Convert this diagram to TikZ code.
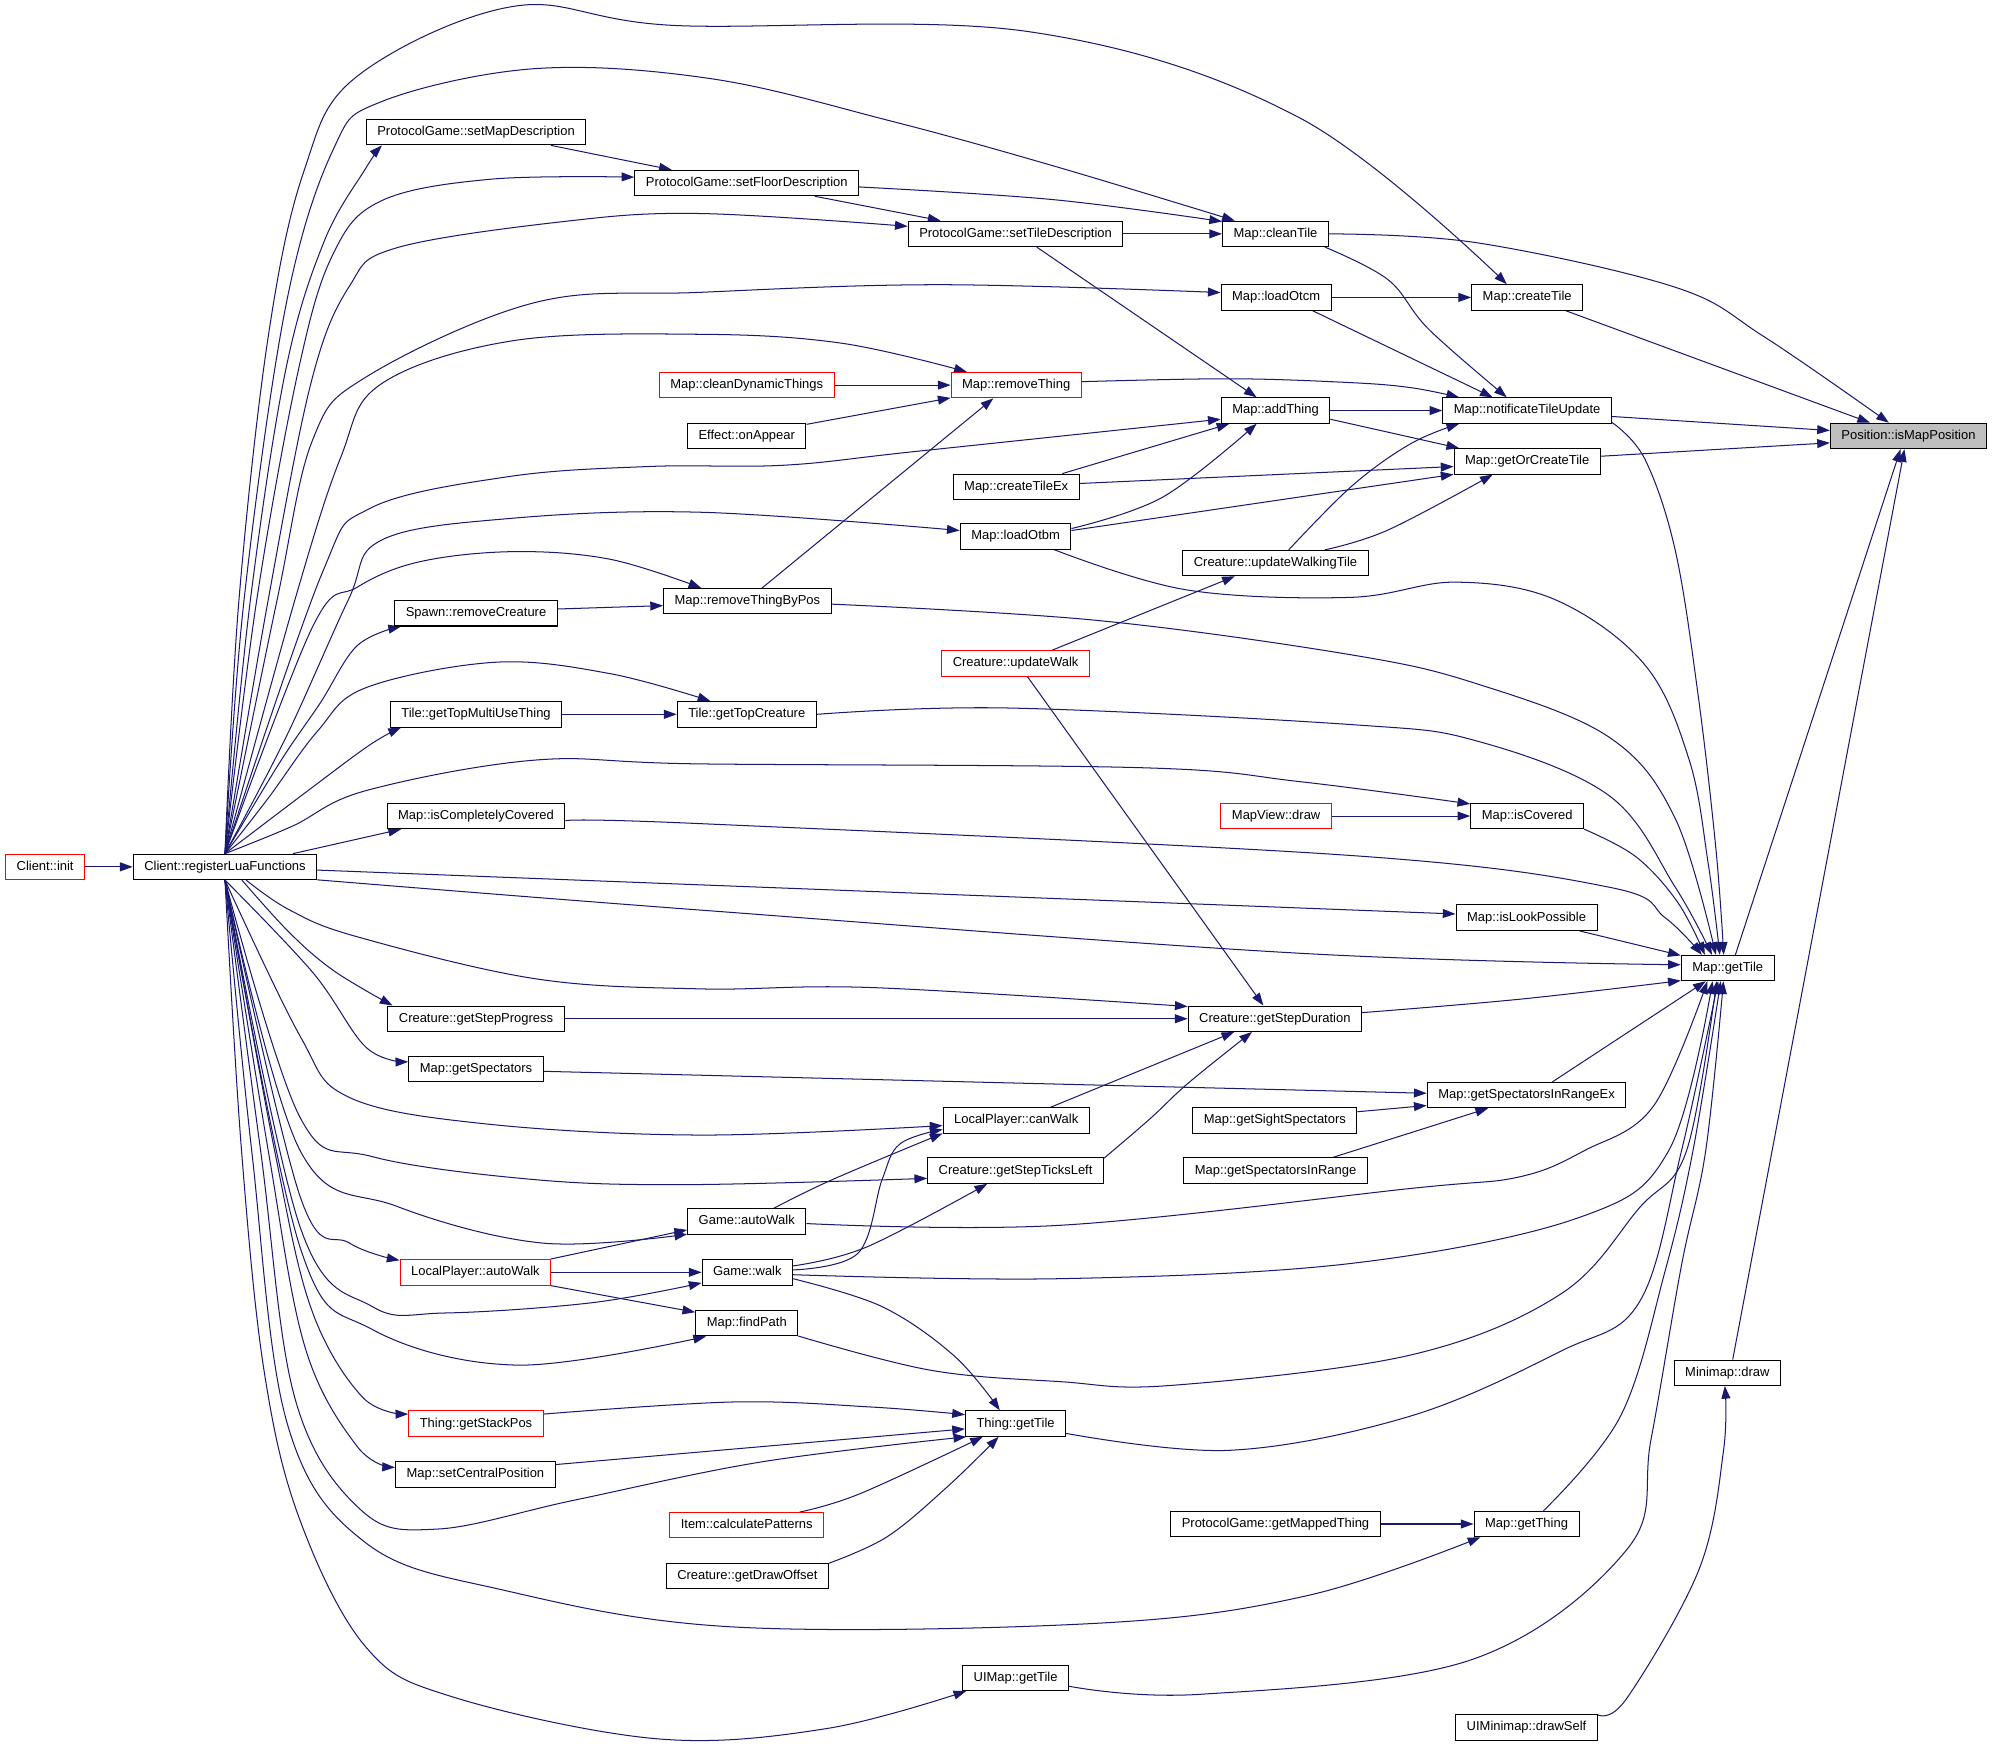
\documentclass[tikz,border=0pt]{standalone}
\usepackage{fontspec}
\setmainfont{Liberation Sans}
\usetikzlibrary{
    arrows.meta,
    backgrounds
}
\definecolor{edgeblue}{HTML}{191970}
\definecolor{selgray}{HTML}{BFBFBF}
\pgfdeclarelayer{bg}
\pgfsetlayers{bg,main}
\tikzset{
    fn/.style={draw=black, line width=0.8pt, fill=white, inner xsep=8.7pt, inner ysep=0pt,
        minimum height=20pt, text height=7.4pt, text depth=2pt,
        font=\fontsize{10.2pt}{12pt}\selectfont},
    fnred/.style={fn, draw=red},
    fnsel/.style={fn, fill=selgray},
    edge/.style={draw=edgeblue, line width=0.8pt, -{Triangle[length=10pt,width=7pt]}},
    spline/.style={edge, smooth, tension=0.6}
}

\begin{document}
\begin{tikzpicture}[x=1pt,y=-1pt]
    \useasboundingbox (0,0) rectangle (1568,1374.5);
    % functions, column by column
    \node[fnred] (clientInit) at (35.5,682) {Client::init};
    \node[fn] (regLua) at (177,682) {Client::registerLuaFunctions};

    \node[fn] (setMapDesc) at (374.5,104) {ProtocolGame::setMapDescription};
    \node[fn] (removeCreature) at (374.5,482.5) {Spawn::removeCreature};
    \node[fn] (getTopMulti) at (374.5,562) {Tile::getTopMultiUseThing};
    \node[fn] (isCompCovered) at (374.5,642) {Map::isCompletelyCovered};
    \node[fn] (getStepProgress) at (374.5,801.5) {Creature::getStepProgress};
    \node[fn] (getSpectators) at (374.5,841) {Map::getSpectators};
    \node[fnred] (lpAutoWalk) at (374,1001) {LocalPlayer::autoWalk};
    \node[fnred] (getStackPos) at (374.5,1120) {Thing::getStackPos};
    \node[fn] (setCentralPos) at (374,1160) {Map::setCentralPosition};

    \node[fn] (setFloorDesc) at (587.5,144) {ProtocolGame::setFloorDescription};
    \node[fnred] (cleanDynThings) at (587.5,303) {Map::cleanDynamicThings};
    \node[fn] (onAppear) at (587.5,343) {Effect::onAppear};
    \node[fn] (removeThingByPos) at (588,473) {Map::removeThingByPos};
    \node[fn] (getTopCreature) at (587.5,562) {Tile::getTopCreature};
    \node[fn] (gameAutoWalk) at (587.5,961) {Game::autoWalk};
    \node[fn] (gameWalk) at (588,1001) {Game::walk};
    \node[fn] (findPath) at (587.5,1041) {Map::findPath};
    \node[fnred] (calcPatterns) at (587.5,1200) {Item::calculatePatterns};
    \node[fn] (getDrawOffset) at (588,1240) {Creature::getDrawOffset};

    \node[fn] (setTileDesc) at (799,184) {ProtocolGame::setTileDescription};
    \node[fnred] (removeThing) at (799.5,303) {Map::removeThing};
    \node[fn] (createTileEx) at (799.5,383) {Map::createTileEx};
    \node[fn] (loadOtbm) at (799,422) {Map::loadOtbm};
    \node[fnred] (updateWalk) at (799,522) {Creature::updateWalk};
    \node[fn] (canWalk) at (799.5,881.5) {LocalPlayer::canWalk};
    \node[fn] (getStepTicksLeft) at (799,921) {Creature::getStepTicksLeft};
    \node[fn] (thingGetTile) at (799,1120) {Thing::getTile};
    \node[fn] (uiMapGetTile) at (799,1320) {UIMap::getTile};

    \node[fn] (cleanTile) at (1003.5,184) {Map::cleanTile};
    \node[fn] (loadOtcm) at (1004,234) {Map::loadOtcm};
    \node[fn] (addThing) at (1003.5,323) {Map::addThing};
    \node[fn] (updateWalkingTile) at (1003.5,443) {Creature::updateWalkingTile};
    \node[fnred] (mapViewDraw) at (1004,642) {MapView::draw};
    \node[fn] (getStepDuration) at (1003,801.5) {Creature::getStepDuration};
    \node[fn] (getSightSpec) at (1003,881.5) {Map::getSightSpectators};
    \node[fn] (getSpecInRange) at (1003.5,921) {Map::getSpectatorsInRange};
    \node[fn] (getMappedThing) at (1003.5,1199) {ProtocolGame::getMappedThing};

    \node[fn] (createTile) at (1201.5,234) {Map::createTile};
    \node[fn] (notifyTile) at (1201.5,323) {Map::notificateTileUpdate};
    \node[fn] (getOrCreateTile) at (1201.5,363) {Map::getOrCreateTile};
    \node[fn] (isCovered) at (1201.5,642) {Map::isCovered};
    \node[fn] (isLookPossible) at (1201,722) {Map::isLookPossible};
    \node[fn] (getSpecRangeEx) at (1201,861.5) {Map::getSpectatorsInRangeEx};
    \node[fn] (mapGetThing) at (1201,1199) {Map::getThing};
    \node[fn] (uiMinimapDrawSelf) at (1201,1359) {UIMinimap::drawSelf};

    \node[fn] (mapGetTile) at (1359.3,761.6) {Map::getTile};
    \node[fn] (minimapDraw) at (1359,1080) {Minimap::draw};

    \node[fnsel] (isMapPos) at (1501.5,343) {Position::isMapPosition};

    \begin{pgfonlayer}{bg}
    \fill[white] (0,0) rectangle (1568,1374.5);
    % calls made from Client::registerLuaFunctions
    \draw[edge] (clientInit) -- (regLua);
    \draw[spline] plot coordinates {(regLua.north) (188,472) (211,265) (239,135) (281,60) (404,5) (530,20) (810,25) (1023,93) (createTile.147)};
    \draw[spline] plot coordinates {(regLua.north) (192,472) (225,240) (262,118) (300,80) (421,54) (560,62) (700,95) (827,130) (cleanTile.162)};
    \draw[spline] plot coordinates {(regLua.north) (197,472) (225,290) (255,190) (288,132) (setMapDesc.188)};
    \draw[spline] plot coordinates {(regLua.north) (202,472) (235,290) (262,200) (300,158) (386,141) (setFloorDesc.177)};
    \draw[spline] plot coordinates {(regLua.north) (211,472) (245,300) (275,225) (312,195) (446,174) (551,168) (setTileDesc.176)};
    \draw[spline] plot coordinates {(regLua.north) (218,472) (246,346) (289,296) (421,238) (551,230) (740,224) (loadOtcm.175)};
    \draw[spline] plot coordinates {(regLua.north) (232,472) (268,360) (300,302) (404,268) (551,263) (662,270) (removeThing.165)};
    \draw[spline] plot coordinates {(regLua.north) (253,452) (291,400) (400,375) (511,367) (617,366) (722,355) (addThing.189)};
    \draw[spline] plot coordinates {(regLua.north) (225,580) (274,472) (300,425) (400,408) (551,403) (loadOtbm.174)};
    \draw[spline] plot coordinates {(regLua.north) (246,493) (281,462) (330,442) (404,434) (480,440) (removeThingByPos.164)};
    \draw[spline] plot coordinates {(regLua.north) (220,600) (252,553) (281,508) (removeCreature.190)};
    \draw[spline] plot coordinates {(regLua.north) (211,628) (250,575) (288,541) (390,521) (480,530) (getTopCreature.160)};
    \draw[spline] plot coordinates {(regLua.north) (245,620) (291,586) (getTopMulti.190)};
    \draw[spline] plot coordinates {(regLua.north) (230,650) (288,622) (421,598) (551,601) (898,604) (1023,615) (isCovered.168)};
    \draw[edge] (regLua.11) -- (isCompCovered.190);
    \draw[edge] (regLua.358) -- (isLookPossible.177);
    \draw[spline] plot coordinates {(regLua.352) (551,716) (1023,750) (mapGetTile.176)};
    \draw[spline] plot coordinates {(regLua.328) (228,716) (281,737) (421,770) (551,778) (687,777) (getStepDuration.172)};
    \draw[spline] plot coordinates {(regLua.322) (228,734) (263,764) (getStepProgress.171)};
    \draw[spline] plot coordinates {(regLua.south) (246,765) (288,824) (getSpectators.174)};
    \draw[spline] plot coordinates {(regLua.south) (236,815) (274,863) (380,884) (551,893) (canWalk.184)};
    \draw[spline] plot coordinates {(regLua.south) (236,879) (293,910) (420,928) (541,932) (getStepTicksLeft.185)};
    \draw[spline] plot coordinates {(regLua.south) (236,905) (312,949) (427,978) (gameAutoWalk.192)};
    \draw[spline] plot coordinates {(regLua.south) (236,941) (275,978) (lpAutoWalk.171)};
    \draw[spline] plot coordinates {(regLua.south) (236,965) (293,1028) (350,1033) (465,1025) (gameWalk.193)};
    \draw[spline] plot coordinates {(regLua.south) (236,981) (293,1046) (407,1074) (findPath.198)};
    \draw[spline] plot coordinates {(regLua.south) (216,905) (245,1030) (285,1099) (getStackPos.172)};
    \draw[spline] plot coordinates {(regLua.south) (211,905) (240,1060) (281,1138) (setCentralPos.175)};
    \draw[spline] plot coordinates {(regLua.south) (205,905) (232,1100) (284,1188) (344,1203) (453,1180) (600,1150) (thingGetTile.195)};
    \draw[spline] plot coordinates {(regLua.south) (198,905) (226,1120) (288,1214) (396,1251) (577,1280) (865,1277) (1030,1255) (mapGetThing.196)};
    \draw[spline] plot coordinates {(regLua.south) (190,905) (208,1080) (236,1196) (288,1296) (356,1335) (517,1368) (650,1360) (uiMapGetTile.195)};

    % the other calls
    \draw[edge] (setMapDesc.350) -- (setFloorDesc.170);
    \draw[edge] (setFloorDesc.349) -- (setTileDesc.170);
    \draw[spline] plot coordinates {(setFloorDesc.358) (828,157) (cleanTile.167)};
    \draw[edge] (setTileDesc) -- (cleanTile);
    \draw[edge] (setTileDesc.328) -- (addThing.145);
    \draw[spline] plot coordinates {(cleanTile.east) (1162,191) (1318,226) (1388,265) (isMapPos.146)};
    \draw[spline] plot coordinates {(cleanTile.345) (1092,220) (1124,259) (notifyTile.147)};
    \draw[edge] (createTile.341) -- (isMapPos.161);
    \draw[edge] (loadOtcm) -- (createTile);
    \draw[edge] (loadOtcm.340) -- (notifyTile.159);
    \draw[edge] (cleanDynThings) -- (removeThing);
    \draw[edge] (onAppear.11) -- (removeThing.191);
    \draw[edge] (removeThingByPos.42) -- (removeThing.210);
    \draw[spline] plot coordinates {(removeThing.3) (968,298) (1062,301) (1110,305) (notifyTile.169)};
    \draw[edge] (addThing) -- (notifyTile);
    \draw[edge] (addThing.351) -- (getOrCreateTile.169);
    \draw[edge] (createTileEx.16) -- (addThing.196);
    \draw[spline] plot coordinates {(loadOtbm.8) (915,391) (addThing.215)};
    \draw[edge] (createTileEx.3) -- (getOrCreateTile.184);
    \draw[edge] (loadOtbm.6) -- (getOrCreateTile.190);
    \draw[spline] plot coordinates {(updateWalkingTile.45) (1064,382) (1110,349) (notifyTile.191)};
    \draw[spline] plot coordinates {(updateWalkingTile.15) (1092,417) (getOrCreateTile.201)};
    \draw[edge] (notifyTile.356) -- (isMapPos.176);
    \draw[edge] (getOrCreateTile.4) -- (isMapPos.185);
    \draw[spline] plot coordinates {(notifyTile.352) (1294,361) (1318,433) (1336,547) (1350,668) (mapGetTile.107)};
    \draw[spline] plot coordinates {(loadOtbm.341) (933,464) (1062,470) (1145,458) (1224,472) (1294,523) (1329,598) (1344,680) (mapGetTile.121)};
    \draw[edge] (updateWalk.20) -- (updateWalkingTile.198);
    \draw[edge] (updateWalk.312) -- (getStepDuration.131);
    \draw[edge] (removeCreature.3) -- (removeThingByPos.183);
    \draw[spline] plot coordinates {(removeThingByPos.358) (862,488) (1062,515) (1162,538) (1266,580) (1318,644) (mapGetTile.132)};
    \draw[edge] (getTopMulti) -- (getTopCreature);
    \draw[spline] plot coordinates {(getTopCreature.east) (792,557) (1062,570) (1162,583) (1266,626) (1318,698) (mapGetTile.140)};
    \draw[edge] (mapViewDraw) -- (isCovered);
    \draw[spline] plot coordinates {(isCovered.347) (1287,674) (1320,710) (mapGetTile.150)};
    \draw[spline] plot coordinates {(isCompCovered.357) (551,648) (1062,673) (1266,698) (1310,722) (mapGetTile.153)};
    \draw[edge] (isLookPossible.346) -- (mapGetTile.165);
    \draw[spline] plot coordinates {(getStepDuration.4) (1197,786) (mapGetTile.195)};
    \draw[edge] (getStepProgress) -- (getStepDuration);
    \draw[edge] (getSpectators.358) -- (getSpecRangeEx.179);
    \draw[edge] (getSightSpec.6) -- (getSpecRangeEx.186);
    \draw[edge] (getSpecInRange.13) -- (getSpecRangeEx.199);
    \draw[edge] (getSpecRangeEx.27) -- (mapGetTile.211);
    \draw[edge] (canWalk.21) -- (getStepDuration.198);
    \draw[spline] plot coordinates {(getStepTicksLeft.8) (905,880) (935,852) (getStepDuration.210)};
    \draw[spline] plot coordinates {(gameAutoWalk.26) (655,928) (canWalk.190)};
    \draw[spline] plot coordinates {(gameWalk.3) (675,986) (694,928) (708,900) (canWalk.187)};
    \draw[spline] plot coordinates {(gameWalk.8) (682,981) (getStepTicksLeft.205)};
    \draw[spline] plot coordinates {(gameAutoWalk.358) (834,964) (1110,935) (1195,926) (1247,905) (1301,870) (mapGetTile.213)};
    \draw[spline] plot coordinates {(gameWalk.357) (834,1006) (1063,994) (1242,958) (1313,905) (mapGetTile.221)};
    \draw[spline] plot coordinates {(findPath.346) (732,1078) (834,1087) (921,1090) (1110,1066) (1228,1018) (1290,950) (1327,905) (mapGetTile.230)};
    \draw[edge] (lpAutoWalk.10) -- (gameAutoWalk.188);
    \draw[edge] (lpAutoWalk) -- (gameWalk);
    \draw[edge] (lpAutoWalk.350) -- (findPath.168);
    \draw[spline] plot coordinates {(gameWalk.352) (694,1028) (751,1067) (thingGetTile.140)};
    \draw[spline] plot coordinates {(getStackPos.8) (577,1103) (686,1107) (thingGetTile.170)};
    \draw[edge] (setCentralPos.7) -- (thingGetTile.186);
    \draw[spline] plot coordinates {(calcPatterns.14) (677,1175) (thingGetTile.202)};
    \draw[spline] plot coordinates {(getDrawOffset.9) (698,1209) (745,1170) (thingGetTile.218)};
    \draw[spline] plot coordinates {(thingGetTile.349) (968,1141) (1110,1114) (1228,1063) (1290,1024) (1323,905) (mapGetTile.234)};
    \draw[edge] (getMappedThing) -- (mapGetThing);
    \draw[spline] plot coordinates {(mapGetThing.38) (1275,1114) (1310,1000) (1332,905) (mapGetTile.242)};
    \draw[spline] plot coordinates {(uiMapGetTile.351) (944,1333) (1157,1306) (1280,1219) (1299,1132) (1323,995) (1342,905) (mapGetTile.252)};
    \draw[spline] plot coordinates {(uiMinimapDrawSelf.10) (1280,1336) (1337,1234) (1356,1141) (minimapDraw.259)};
    \draw[edge] (minimapDraw.68) -- (isMapPos.253);
    \draw[edge] (mapGetTile.60) -- (isMapPos.239);
    \end{pgfonlayer}
\end{tikzpicture}
\end{document}
